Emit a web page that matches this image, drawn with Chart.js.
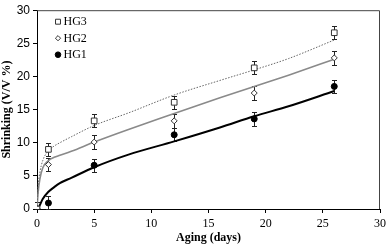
<!DOCTYPE html>
<html>
<head>
<meta charset="utf-8">
<script src="https://cdn.jsdelivr.net/npm/chart.js@4.4.0/dist/chart.umd.min.js"></script>
<style>
  html, body { margin: 0; padding: 0; background: #fff; }
  #wrap { width: 390px; height: 249px; }
</style>
</head>
<body>
<div id="wrap"><canvas id="shrinkChart"></canvas></div>
<script>
// measured points
const days = [0, 1, 5, 12, 19, 26];
const hg3 = [0, 9.0, 13.3, 16.1, 21.3, 26.6];
const hg2 = [0, 6.7, 10.1, 13.3, 17.5, 22.8];
const hg1 = [0, 0.9, 6.6, 11.2, 13.6, 18.5];
const hg3Err = [1.0, 1.0, 1.0, 1.0, 1.0, 1.0];
const hg2Err = [1.0, 1.0, 1.0, 1.1, 1.0, 1.0];
const hg1Err = [1.0, 1.0, 1.0, 1.0, 1.0, 1.0];

// fitted curves
const fitDays = [0, 0.1, 0.25, 0.5, 1, 1.5, 2, 3, 5, 8, 12, 16, 19, 22, 26];
const hg3Fit = [0, 3.5, 5.5, 7.3, 8.8, 9.5, 10.0, 10.9, 12.6, 14.5, 17.2, 19.4, 21.0, 22.7, 25.5];
const hg2Fit = [0, 2.5, 4.5, 6.2, 7.3, 7.8, 8.1, 8.7, 10.1, 12.0, 14.4, 16.8, 18.5, 20.2, 22.6];
const hg1Fit = [0, 0.1, 0.6, 1.5, 2.6, 3.3, 3.9, 4.7, 6.3, 8.2, 10.2, 12.3, 14.0, 15.5, 17.8];

const xTicks = [0, 5, 10, 15, 20, 25, 30];
const yTicks = [0, 5, 10, 15, 20, 25, 30];

function toXY(xs, ys) {
    return xs.map(function (x, i) { return { x: x, y: ys[i] }; });
}

// error bars drawn under the markers
const errorBars = {
    id: 'errorBars',
    beforeDatasetsDraw: function (chart) {
        const ctx = chart.ctx;
        const xs = chart.scales.x, ys = chart.scales.y;
        ctx.save();
        ctx.strokeStyle = '#222';
        ctx.lineWidth = 1;
        chart.data.datasets.forEach(function (ds) {
            if (!ds.errors) return;
            ds.data.forEach(function (p, i) {
                const px = Math.round(xs.getPixelForValue(p.x)) + 0.5;
                const top = Math.round(ys.getPixelForValue(p.y + ds.errors[i])) + 0.5;
                const bot = Math.round(ys.getPixelForValue(Math.max(0, p.y - ds.errors[i]))) + 0.5;
                ctx.beginPath();
                ctx.moveTo(px, top); ctx.lineTo(px, bot);
                ctx.moveTo(px - 2.5, top); ctx.lineTo(px + 2.5, top);
                ctx.moveTo(px - 2.5, bot); ctx.lineTo(px + 2.5, bot);
                ctx.stroke();
            });
        });
        ctx.restore();
    }
};

// frame on top and right side + legend inside the plot
const frameAndLegend = {
    id: 'frameAndLegend',
    afterDraw: function (chart) {
        const a = chart.chartArea;
        const ctx = chart.ctx;
        ctx.save();
        ctx.strokeStyle = '#444';
        ctx.lineWidth = 1;
        ctx.beginPath();
        ctx.moveTo(a.left, a.top + 0.5);
        ctx.lineTo(a.right - 0.5, a.top + 0.5);
        ctx.lineTo(a.right - 0.5, a.bottom);
        ctx.stroke();

        ctx.font = '12px "Liberation Serif"';
        ctx.textBaseline = 'middle';
        const sizes = [3.5, 2.6, 2.8];
        for (let i = 0; i < 3; i++) {
            const ds = chart.data.datasets[i];
            const lx = a.left + 21, ly = a.top + 11.5 + i * 16.5;
            ctx.fillStyle = ds.backgroundColor;
            ctx.strokeStyle = ds.borderColor;
            ctx.lineWidth = 1;
            Chart.helpers.drawPoint(ctx, {
                pointStyle: ds.pointStyle, radius: sizes[i], borderWidth: 1
            }, lx, ly);
            ctx.fillStyle = '#000';
            ctx.fillText(ds.label, lx + 5.5, ly + 0.5);
        }
        ctx.restore();
    }
};

const ctx = document.getElementById('shrinkChart').getContext('2d');
const shrinkChart = new Chart(ctx, {
    type: 'scatter',
    data: {
        datasets: [
            {
                label: 'HG3', data: toXY(days, hg3), errors: hg3Err,
                pointStyle: 'rect', pointRadius: 4, borderWidth: 1,
                backgroundColor: '#fff', borderColor: '#333', showLine: false
            },
            {
                label: 'HG2', data: toXY(days, hg2), errors: hg2Err,
                pointStyle: 'rectRot', pointRadius: 3, borderWidth: 1,
                backgroundColor: '#fff', borderColor: '#333', showLine: false
            },
            {
                label: 'HG1', data: toXY(days, hg1), errors: hg1Err,
                pointStyle: 'circle', pointRadius: 3, borderWidth: 1,
                backgroundColor: '#000', borderColor: '#000', showLine: false
            },
            {
                label: 'fit3', data: toXY(fitDays, hg3Fit), showLine: true,
                borderColor: '#666', borderWidth: 1, borderDash: [1.5, 1.5],
                pointRadius: 0, cubicInterpolationMode: 'monotone'
            },
            {
                label: 'fit2', data: toXY(fitDays, hg2Fit), showLine: true,
                borderColor: '#8a8a8a', borderWidth: 1.6,
                pointRadius: 0, cubicInterpolationMode: 'monotone'
            },
            {
                label: 'fit1', data: toXY(fitDays, hg1Fit), showLine: true,
                borderColor: '#000', borderWidth: 2,
                pointRadius: 0, cubicInterpolationMode: 'monotone'
            }
        ]
    },
    options: {
        responsive: true,
        maintainAspectRatio: false,
        animation: false,
        layout: { padding: { top: 5, right: 6, left: 0, bottom: 0 } },
        plugins: {
            tooltip: { enabled: false },
            legend: { display: false }
        },
        scales: {
            x: {
                type: 'linear', min: 0, max: 30,
                afterFit: function (s) { s.height = 40; },
                afterBuildTicks: function (s) { s.ticks = xTicks.map(function (v) { return { value: v }; }); },
                grid: { display: true, drawOnChartArea: false, tickLength: 4, color: '#000' },
                border: { color: '#000', width: 1 },
                ticks: { color: '#000', padding: 4, font: { family: 'Liberation Serif', size: 12 } },
                title: {
                    display: true, text: 'Aging (days)', color: '#000', padding: { top: 4 },
                    font: { family: 'Liberation Serif', size: 12, weight: 'bold' }
                }
            },
            y: {
                type: 'linear', min: 0, max: 30,
                afterFit: function (s) { s.width = 37; },
                afterBuildTicks: function (s) { s.ticks = yTicks.map(function (v) { return { value: v }; }); },
                grid: { display: true, drawOnChartArea: false, tickLength: 4, color: '#000' },
                border: { color: '#000', width: 1 },
                ticks: { color: '#000', padding: 3, font: { family: 'Liberation Sans', size: 12 } },
                title: {
                    display: true, text: 'Shrinking (V/V %)', color: '#000', padding: 0,
                    font: { family: 'Liberation Serif', size: 12, weight: 'bold' }
                }
            }
        }
    },
    plugins: [errorBars, frameAndLegend]
});
</script>
</body>
</html>
